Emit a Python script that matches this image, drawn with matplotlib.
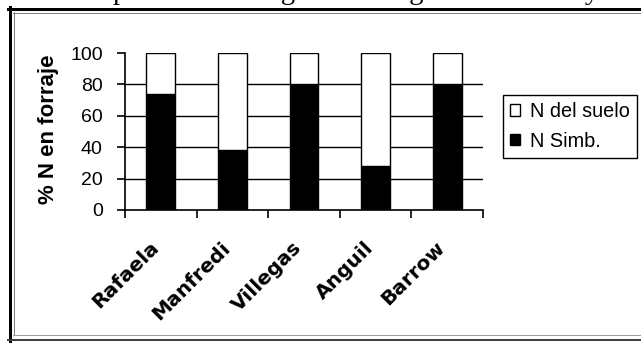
import matplotlib
matplotlib.use("Agg")
import matplotlib.pyplot as plt
from matplotlib.patches import Patch
from matplotlib.lines import Line2D
from matplotlib.transforms import ScaledTranslation
import numpy as np

# Data
categories = ["Rafaela", "Manfredi", "Villegas", "Anguil", "Barrow"]
n_simb = [74, 38, 80, 28, 80]
n_suelo = [26, 62, 20, 72, 20]
y_ticks = [0, 20, 40, 60, 80, 100]
legend_labels = ["N del suelo", "N Simb."]
y_label = "% N en forraje"
top_text = "se comporta del Nitrógeno de origen simbiótico y del suelo"

W, H = 641, 343
fig = plt.figure(figsize=(W / 100, H / 100), dpi=100)
fig.patch.set_facecolor("white")

ax = fig.add_axes([125 / W, 1 - 210 / H, (483 - 125) / W, (210 - 53) / H])
x = np.arange(len(categories))
bw = 0.4
ax.bar(x, n_simb, width=bw, color="black", edgecolor="black", linewidth=1, zorder=3)
ax.bar(x, n_suelo, width=bw, bottom=n_simb, color="white", edgecolor="black",
       linewidth=1, zorder=3)

ax.set_xlim(-0.5, len(categories) - 0.5)
ax.set_ylim(0, 100)
for gy in y_ticks[1:-1]:
    ax.axhline(gy, color="black", linewidth=1, zorder=1)

for s in ["top", "right"]:
    ax.spines[s].set_visible(False)
for s in ["left", "bottom"]:
    ax.spines[s].set_color("black")
    ax.spines[s].set_linewidth(1.2)
    ax.spines[s].set_clip_on(False)

ax.set_yticks(y_ticks)
ax.set_yticklabels([str(v) for v in y_ticks], fontsize=14, family="Liberation Sans")
ax.tick_params(axis="y", length=6, width=1.2, pad=10, colors="black")

ax.set_xticks(x)
ax.set_xticklabels(categories, rotation=45, ha="right", va="top",
                   rotation_mode="anchor", fontsize=14.5,
                   family="DejaVu Sans", fontweight="bold")
ax.tick_params(axis="x", which="major", length=0, pad=20)
off = ScaledTranslation(-12 / 100, 0, fig.dpi_scale_trans)
for lab in ax.get_xticklabels():
    lab.set_transform(lab.get_transform() + off)
ax.set_xticks(np.arange(len(categories) + 1) - 0.5, minor=True)
ax.tick_params(axis="x", which="minor", length=6, width=1.2, colors="black")

fig.text(49 / W, 1 - 129 / H, y_label, rotation=90, ha="center", va="center",
         fontsize=16, fontweight="bold", family="Liberation Sans")

handles = [Patch(facecolor="white", edgecolor="black", linewidth=1),
           Patch(facecolor="black", edgecolor="black", linewidth=1)]
leg = fig.legend(handles, legend_labels, loc="upper left",
                 bbox_to_anchor=(503 / W, 1 - 95 / H), bbox_transform=fig.transFigure,
                 borderaxespad=0, fancybox=False, frameon=True, framealpha=1,
                 edgecolor="black", handlelength=0.5, handleheight=0.5,
                 handletextpad=0.5, borderpad=0.35, labelspacing=0.55,
                 prop={"family": "Liberation Sans", "size": 14.3})
leg.get_frame().set_linewidth(1)

# Surrounding frame
def hline(y, x0, x1, lw, color):
    fig.add_artist(Line2D([x0 / W, x1 / W], [1 - y / H, 1 - y / H], lw=lw * 0.72,
                          color=color, transform=fig.transFigure))

def vline(xp, y0, y1, lw, color):
    fig.add_artist(Line2D([xp / W, xp / W], [1 - y0 / H, 1 - y1 / H], lw=lw * 0.72,
                          color=color, transform=fig.transFigure))

hline(8.5, 8, W + 5, 3, "black")
vline(9.5, 7, 341, 3, "black")
hline(12.5, 13, W + 5, 1, "#808080")
vline(13.5, 12, 335, 1, "#808080")
hline(334.5, 13, W + 5, 1, "#a0a0a0")
hline(339.5, 8, W + 5, 2, "#404040")

# Cut-off line of document text above the chart (only descenders visible)
fig.text(33 / W, 1 + 1 / H, top_text, ha="left", va="baseline",
         fontsize=20.5, family="Liberation Serif", color="black")

fig.savefig("out.png", dpi=100, facecolor="white")
